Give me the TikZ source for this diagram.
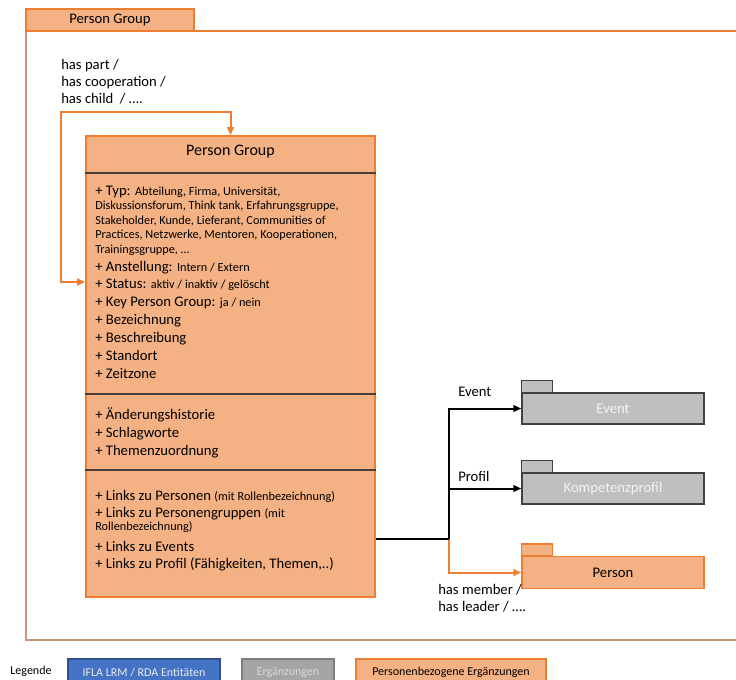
\documentclass[tikz,border=0pt]{standalone}
\usepackage{fontspec}
\setmainfont{Carlito}
\usetikzlibrary{arrows.meta}

\definecolor{pgfill}{HTML}{F4B183}
\definecolor{pgline}{HTML}{ED7D31}
\definecolor{framec}{HTML}{C8967A}
\definecolor{greyfill}{HTML}{BFBFBF}
\definecolor{greyline}{HTML}{404040}
\definecolor{greytext}{HTML}{F2F2F2}
\definecolor{sepc}{HTML}{4A3F38}
\definecolor{ifla}{HTML}{4472C4}
\definecolor{iflaline}{HTML}{2F528F}
\definecolor{addfill}{HTML}{A5A5A5}
\definecolor{addline}{HTML}{7F7F7F}
\definecolor{addtext}{HTML}{D9D9D9}

\newcommand\smtxt[1]{{\fontsize{9.2}{11}\selectfont #1}}

\tikzset{
  big/.style={font=\fontsize{11}{13}\selectfont},
  attr/.style={anchor=base west, inner sep=0pt, big},
  lbl/.style={anchor=west, inner sep=0pt, big},
  orangebox/.style={draw=pgline, fill=pgfill, line width=1.2pt},
  greypkg/.style={draw=greyline, fill=greyfill, line width=1pt, text=greytext,
    minimum width=136.5pt, minimum height=23.25pt, big},
  orangepkg/.style={draw=pgline, fill=pgfill, line width=1pt,
    minimum width=136.5pt, minimum height=24pt, big},
  conn/.style={line width=1.5pt, -{Triangle[length=6pt,width=5pt]}},
  legendbox/.style={line width=0.8pt, minimum height=20.25pt, inner sep=0pt,
    font=\fontsize{9}{10.5}\selectfont},
}

\begin{document}
\begin{tikzpicture}[x=0.75pt,y=-0.75pt]
\useasboundingbox (0,0) rectangle (736,679);

% outer package frame with its tab
\draw[framec, line width=1.4pt] (26,31) rectangle (745,640);
\draw[pgline, line width=1.2pt] (194,31) -- (745,31);
\node[orangebox, minimum width=126pt, minimum height=16.5pt, inner sep=0pt, big]
  (tab) at (110,20) {};
\node[big, inner sep=0pt] (tabtxt) at (110,20) {Person Group};

% main class box
\node[orangebox, minimum width=216.75pt, minimum height=345.75pt, inner sep=0pt]
  (pg) at (230.5,366.5) {};
\node[inner sep=0pt, font=\fontsize{12}{14}\selectfont] (pgtitle) at (230.5,152) {Person Group};
\draw[sepc, line width=0.9pt] (pg.west |- 0,173) -- (pg.east |- 0,173);
\draw[sepc, line width=0.9pt] (pg.west |- 0,394) -- (pg.east |- 0,394);
\draw[sepc, line width=0.9pt] (pg.west |- 0,470) -- (pg.east |- 0,470);

% attributes
\node[attr] (a1)  at (95,195) {+ Typ: \smtxt{Abteilung, Firma, Universität,}};
\node[attr] (a2)  at (95,209.5) {\smtxt{Diskussionsforum, Think tank, Erfahrungsgruppe,}};
\node[attr] (a3)  at (95,224) {\smtxt{Stakeholder, Kunde, Lieferant, Communities of}};
\node[attr] (a4)  at (95,238.5) {\smtxt{Practices, Netzwerke, Mentoren, Kooperationen,}};
\node[attr] (a5)  at (95,253) {\smtxt{Trainingsgruppe, …}};
\node[attr] (a6)  at (95,271) {+ Anstellung: \smtxt{Intern / Extern}};
\node[attr] (a7)  at (95,288) {+ Status: \smtxt{aktiv / inaktiv / gelöscht}};
\node[attr] (a8)  at (95,306.5) {+ Key Person Group: \smtxt{ja / nein}};
\node[attr] (a9)  at (95,324) {+ Bezeichnung};
\node[attr] (a10) at (95,342) {+ Beschreibung};
\node[attr] (a11) at (95,360) {+ Standort};
\node[attr] (a12) at (95,378) {+ Zeitzone};

\node[attr] (b1) at (95,419) {+ Änderungshistorie};
\node[attr] (b2) at (95,437) {+ Schlagworte};
\node[attr] (b3) at (95,455) {+ Themenzuordnung};

\node[attr] (c1) at (95,500) {+ Links zu Personen \smtxt{(mit Rollenbezeichnung)}};
\node[attr] (c2) at (95,517) {+ Links zu Personengruppen \smtxt{(mit}};
\node[attr] (c3) at (95,530.5) {\smtxt{Rollenbezeichnung)}};
\node[attr] (c4) at (95,551) {+ Links zu Events};
\node[attr] (c5) at (95,568.5) {+ Links zu Profil (Fähigkeiten, Themen,..)};

% self relation
\node[lbl] (rel1) at (61,66) {has part /};
\node[lbl] (rel2) at (61,82.5) {has cooperation /};
\node[lbl] (rel3) at (61,99) {has child\ \ / ….};
\coordinate (loopy) at (0,282);
\coordinate (loopc) at (61,112);
\draw[pgline, line width=1.5pt,
  {Triangle[length=6pt,width=5pt]}-{Triangle[length=6pt,width=5pt]}]
  (pg.west |- loopy) -| (loopc) -| (pg.north);

% related packages
\node[greypkg] (ev) at (613,408.5) {Event};
\draw[greyline, fill=greyfill, line width=1pt] (ev.north west) rectangle ++(31,-12);
\node[greypkg] (kp) at (613,488.5) {Kompetenzprofil};
\draw[greyline, fill=greyfill, line width=1pt] (kp.north west) rectangle ++(31,-12);
\node[orangepkg] (ps) at (613,572.5) {Person};
\draw[pgline, fill=pgfill, line width=1pt] (ps.north west) rectangle ++(31,-12);

% connectors to packages
\coordinate (jn) at (449,539);
\draw[pgline, conn] (jn) |- (ps.west);
\draw[line width=1.5pt] (pg.east |- jn) -- (jn);
\draw[conn] (jn) |- (ev.west);
\draw[conn] (jn) |- (kp.west);
\node[lbl] (evl) at (458,392) {Event};
\node[lbl] (kpl) at (458,476) {Profil};
\node[lbl] (psl1) at (438,590) {has member /};
\node[lbl] (psl2) at (438,607) {has leader / ….};

% legend
\node[inner sep=0pt, font=\fontsize{9}{10.5}\selectfont] (leg) at (31,671.5) {Legende};
\node[legendbox, draw=iflaline, fill=ifla, text=white!92!black, minimum width=114pt]
  (l1) at (144,672.5) {IFLA LRM / RDA Entitäten};
\node[legendbox, draw=addline, fill=addfill, text=addtext, minimum width=69pt]
  (l2) at (288,672.5) {Ergänzungen};
\node[legendbox, draw=pgline, fill=pgfill, minimum width=142.5pt]
  (l3) at (451,672.5) {Personenbezogene Ergänzungen};
\end{tikzpicture}
\end{document}
